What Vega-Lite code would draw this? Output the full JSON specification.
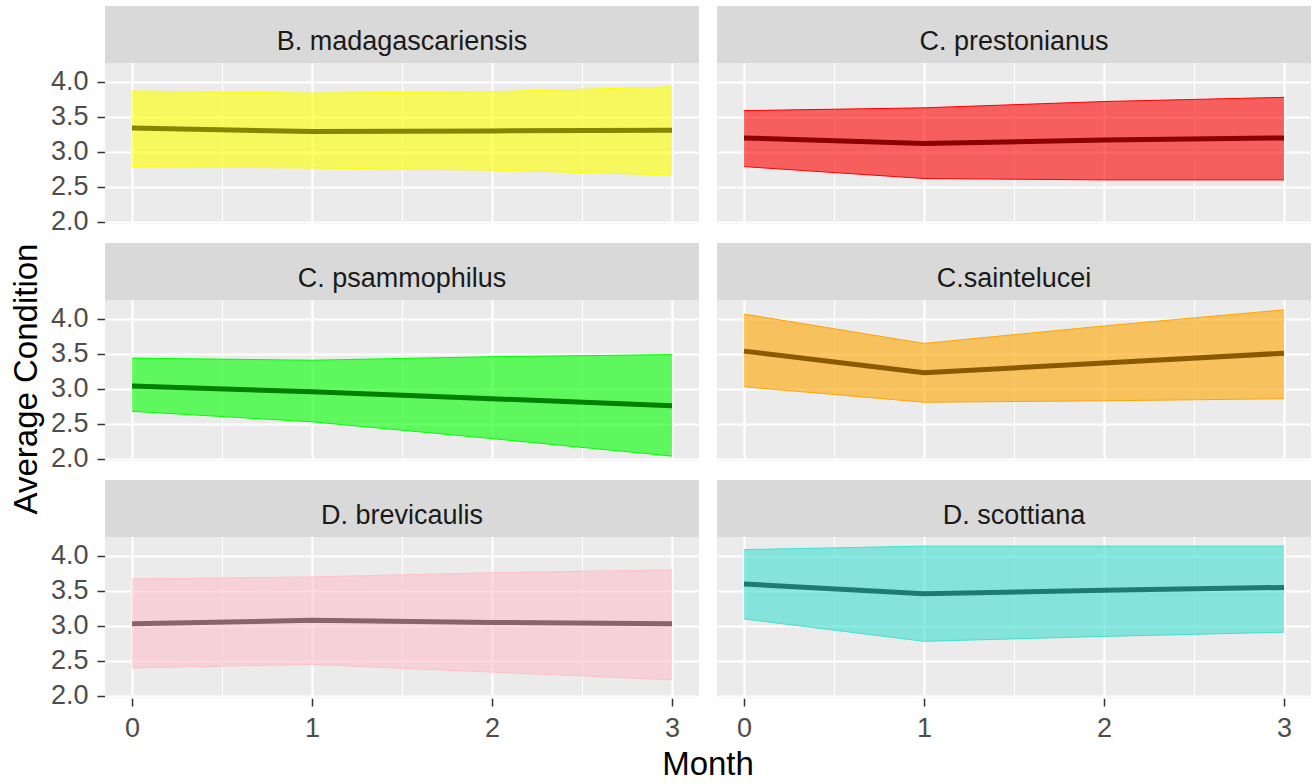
{
  "$schema": "https://vega.github.io/schema/vega-lite/v6.json",
  "padding": {"left": 11, "top": 6, "right": 5, "bottom": 0},
  "background": "#FFFFFF",
  "title": {"text": "Average Condition", "orient": "left", "anchor": "middle", "frame": "bounds", "fontSize": 33, "fontWeight": "normal", "font": "Liberation Sans", "color": "#000000", "offset": 6, "dx": 15},
  "data": {
    "values": [
      {"species": "B. madagascariensis", "month": 0, "fit": 3.34, "lo": 2.79, "hi": 3.87},
      {"species": "B. madagascariensis", "month": 1, "fit": 3.29, "lo": 2.77, "hi": 3.84},
      {"species": "B. madagascariensis", "month": 2, "fit": 3.30, "lo": 2.74, "hi": 3.86},
      {"species": "B. madagascariensis", "month": 3, "fit": 3.31, "lo": 2.67, "hi": 3.93},
      {"species": "C. prestonianus", "month": 0, "fit": 3.20, "lo": 2.79, "hi": 3.59},
      {"species": "C. prestonianus", "month": 1, "fit": 3.12, "lo": 2.62, "hi": 3.63},
      {"species": "C. prestonianus", "month": 2, "fit": 3.17, "lo": 2.60, "hi": 3.72},
      {"species": "C. prestonianus", "month": 3, "fit": 3.20, "lo": 2.60, "hi": 3.78},
      {"species": "C. psammophilus", "month": 0, "fit": 3.04, "lo": 2.68, "hi": 3.44},
      {"species": "C. psammophilus", "month": 1, "fit": 2.96, "lo": 2.53, "hi": 3.41},
      {"species": "C. psammophilus", "month": 2, "fit": 2.86, "lo": 2.29, "hi": 3.46},
      {"species": "C. psammophilus", "month": 3, "fit": 2.76, "lo": 2.04, "hi": 3.49},
      {"species": "C.saintelucei", "month": 0, "fit": 3.54, "lo": 3.03, "hi": 4.07},
      {"species": "C.saintelucei", "month": 1, "fit": 3.23, "lo": 2.81, "hi": 3.65},
      {"species": "C.saintelucei", "month": 2, "fit": 3.37, "lo": 2.83, "hi": 3.90},
      {"species": "C.saintelucei", "month": 3, "fit": 3.51, "lo": 2.86, "hi": 4.13},
      {"species": "D. brevicaulis", "month": 0, "fit": 3.03, "lo": 2.40, "hi": 3.67},
      {"species": "D. brevicaulis", "month": 1, "fit": 3.08, "lo": 2.45, "hi": 3.70},
      {"species": "D. brevicaulis", "month": 2, "fit": 3.05, "lo": 2.34, "hi": 3.76},
      {"species": "D. brevicaulis", "month": 3, "fit": 3.03, "lo": 2.23, "hi": 3.80},
      {"species": "D. scottiana", "month": 0, "fit": 3.60, "lo": 3.10, "hi": 4.09},
      {"species": "D. scottiana", "month": 1, "fit": 3.46, "lo": 2.78, "hi": 4.14},
      {"species": "D. scottiana", "month": 2, "fit": 3.51, "lo": 2.85, "hi": 4.14},
      {"species": "D. scottiana", "month": 3, "fit": 3.55, "lo": 2.91, "hi": 4.14}
    ]
  },
  "facet": {"field": "species", "type": "nominal", "title": "Month",
    "sort": ["B. madagascariensis", "C. prestonianus", "C. psammophilus", "C.saintelucei", "D. brevicaulis", "D. scottiana"],
    "header": {"labels": false, "titleOrient": "bottom", "titleFontSize": 33, "titleFont": "Liberation Sans", "titleFontWeight": "normal", "titleColor": "#000000", "titlePadding": 8, "labelFontSize": 0, "labelPadding": 0}},
  "columns": 2,
  "spacing": {"row": 19, "column": 18},
  "spec": {
    "width": 594,
    "height": 218,
    "encoding": {
      "x": {"field": "month", "type": "quantitative", "scale": {"domain": [-0.15, 3.15]},
        "axis": {"values": [0, 0.5, 1, 1.5, 2, 2.5, 3], "title": null, "labelOverlap": false,
          "labelExpr": "datum.value % 1 == 0 ? format(datum.value, 'd') : ''",
          "tickOpacity": {"condition": {"test": "datum.value % 1 == 0", "value": 1}, "value": 0},
          "gridWidth": {"condition": {"test": "datum.value % 1 == 0", "value": 2.2}, "value": 1.1}}}
    },
    "layer": [
      {"mark": {"type": "area", "opacity": 0.6},
       "encoding": {
         "y": {"field": "lo", "type": "quantitative", "scale": {"domain": [1.97, 5.085]},
           "axis": {"values": [2, 2.25, 2.5, 2.75, 3, 3.25, 3.5, 3.75, 4, 4.25], "title": null, "labelOverlap": false,
             "labelExpr": "datum.value * 2 % 1 == 0 ? format(datum.value, '.1f') : ''",
             "tickOpacity": {"condition": {"test": "datum.value * 2 % 1 == 0", "value": 1}, "value": 0},
             "gridWidth": {"condition": {"test": "datum.value * 2 % 1 == 0", "value": 2.2}, "value": 1.1}}},
         "y2": {"field": "hi"},
         "color": {"field": "species", "type": "nominal", "legend": null,
           "scale": {"domain": ["B. madagascariensis", "C. prestonianus", "C. psammophilus", "C.saintelucei", "D. brevicaulis", "D. scottiana"],
                     "range": ["#FFFF00", "#FF0000", "#00FF00", "#FFA500", "#FFC0CB", "#40E0D0"]}}
       }},
      {"mark": {"type": "line", "strokeWidth": 1},
       "encoding": {
         "y": {"field": "lo", "type": "quantitative", "scale": {"domain": [1.97, 5.085]}},
         "color": {"field": "species", "type": "nominal", "legend": null}
       }},
      {"mark": {"type": "line", "strokeWidth": 1},
       "encoding": {
         "y": {"field": "hi", "type": "quantitative", "scale": {"domain": [1.97, 5.085]}},
         "color": {"field": "species", "type": "nominal", "legend": null}
       }},
      {"mark": {"type": "line", "strokeWidth": 5},
       "encoding": {
         "y": {"field": "fit", "type": "quantitative", "scale": {"domain": [1.97, 5.085]}},
         "stroke": {"field": "species", "type": "nominal", "legend": null,
           "scale": {"domain": ["B. madagascariensis", "C. prestonianus", "C. psammophilus", "C.saintelucei", "D. brevicaulis", "D. scottiana"],
                     "range": ["#858500", "#8B0000", "#007F00", "#8B5A00", "#8B636C", "#1E7B73"]}}
       }},
      {"transform": [{"filter": "datum.month == 0"}],
       "mark": {"type": "rect", "color": "#D9D9D9"},
       "encoding": {
         "x": {"datum": -0.15, "type": "quantitative"},
         "x2": {"datum": 3.15},
         "y": {"datum": 4.27, "type": "quantitative", "scale": {"domain": [1.97, 5.085]}},
         "y2": {"datum": 5.085}
       }},
      {"transform": [{"filter": "datum.month == 0"}],
       "mark": {"type": "text", "fontSize": 27, "color": "#1A1A1A", "font": "Liberation Sans"},
       "encoding": {
         "x": {"datum": 1.5, "type": "quantitative"},
         "y": {"datum": 4.57, "type": "quantitative", "scale": {"domain": [1.97, 5.085]}},
         "text": {"field": "species"}
       }}
    ]
  },
  "config": {
    "font": "Liberation Sans",
    "view": {"fill": "#EBEBEB", "stroke": null},
    "header": {"labels": false, "labelFontSize": 0, "labelPadding": 0},
    "axis": {
      "domain": false,
      "gridColor": "#FFFFFF",
      "gridOpacity": 1,
      "tickColor": "#333333",
      "tickSize": 8,
      "tickWidth": 1.5,
      "labelFont": "Liberation Sans",
      "labelFontSize": 27,
      "labelColor": "#4D4D4D",
      "labelPadding": 9,
      "labelFlush": false,
      "labelBound": false
    }
  }
}
